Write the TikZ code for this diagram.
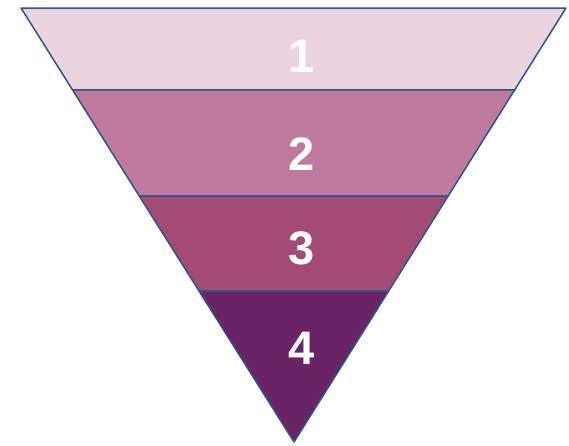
\documentclass[tikz,border=0pt]{standalone}
\usepackage{fontspec}
\setmainfont{Liberation Sans}
\usetikzlibrary{calc}
\definecolor{bandA}{HTML}{EBD3DF}
\definecolor{bandB}{HTML}{C07A9E}
\definecolor{bandC}{HTML}{A34B74}
\definecolor{bandD}{HTML}{6A2365}
\definecolor{edgeblue}{HTML}{2E5587}
\tikzset{
  band/.style={draw=edgeblue, line width=1.5pt, line join=round},
  num/.style={text=white, font=\fontsize{47}{47}\selectfont\bfseries, inner sep=0pt}
}
\begin{document}
\begin{tikzpicture}[x=1pt, y=-1pt]
			\useasboundingbox (0,0) rectangle (569,445);
			\coordinate (tl) at (21,8);
			\coordinate (tr) at (566,8);
			\coordinate (apex) at (294,442);
			\coordinate (l1) at ($(tl)!0.1889!(apex)$);
			\coordinate (r1) at ($(tr)!0.1889!(apex)$);
			\coordinate (l2) at ($(tl)!0.4332!(apex)$);
			\coordinate (r2) at ($(tr)!0.4332!(apex)$);
			\coordinate (l3) at ($(tl)!0.6521!(apex)$);
			\coordinate (r3) at ($(tr)!0.6521!(apex)$);
			\draw[band, fill=bandA] (tl) -- (tr) -- (r1) -- (l1) -- cycle;
			\draw[band, fill=bandB] (l1) -- (r1) -- (r2) -- (l2) -- cycle;
			\draw[band, fill=bandC] (l2) -- (r2) -- (r3) -- (l3) -- cycle;
			\draw[band, fill=bandD] (l3) -- (r3) -- (apex) -- cycle;
			\node[num] (n1) at (302,56) {1};
			\node[num] (n2) at (302,154) {2};
			\node[num] (n3) at (302,248) {3};
			\node[num] (n4) at (302,348) {4};
		\end{tikzpicture}
\end{document}
